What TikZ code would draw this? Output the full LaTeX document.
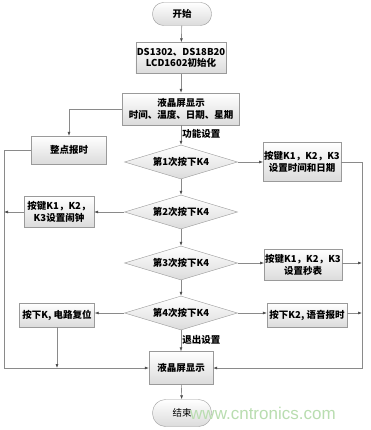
\documentclass[tikz,border=0pt]{standalone}
\usepackage{fontspec}
\setmainfont{Noto Sans CJK SC}
\newfontfamily\wmfont{Liberation Sans}
\usetikzlibrary{shapes.geometric,arrows.meta}
\definecolor{linec}{HTML}{8A8A8A}
\definecolor{boxline}{HTML}{9A9A9A}
\definecolor{wm}{HTML}{B9DDB0}
\begin{document}
\begin{tikzpicture}[x=1pt,y=-1pt,
  txt/.style={font=\bfseries\fontsize{9.5}{11.5}\selectfont},
  box/.style={draw=boxline,top color=white,bottom color=black!14,txt,align=center,inner sep=1pt},
  term/.style={box,rounded corners=11pt},
  dia/.style={diamond,aspect=3.3,draw=boxline,top color=white,bottom color=black!14,txt,inner sep=0pt,minimum width=113pt,minimum height=34pt},
  conn/.style={draw=linec,line width=0.6pt},
  arr/.style={conn,-{Latex[length=4pt,width=3pt,color=black!70]}},
  lbl/.style={txt,anchor=west,inner sep=1pt}]
\useasboundingbox (0,0) rectangle (370,430);
\fill[white] (0,0) rectangle (370,430);
\node[term,minimum width=59pt,minimum height=23pt] (start) at (182,14) {开始};
\node[box,minimum width=82pt,minimum height=31pt] (init) at (181,58) {DS1302、DS18B20\\LCD1602初始化};
\node[box,minimum width=117pt,minimum height=32pt] (lcd) at (181,109) {液晶屏显示\\时间、温度、日期、星期};
\node[box,minimum width=75pt,minimum height=28pt] (zd) at (69,150) {整点报时};
\node[dia] (d1) at (181,162) {第1次按下K4};
\node[box,minimum width=76pt,minimum height=39pt] (r1) at (302,162) {按键K1，K2，K3\\设置时间和日期};
\node[dia] (d2) at (181,212) {第2次按下K4};
\node[box,minimum width=70pt,minimum height=31pt] (l2) at (59,212) {按键K1，K2，\\K3设置闹钟};
\node[dia] (d3) at (181,263) {第3次按下K4};
\node[box,minimum width=76pt,minimum height=31pt] (r3) at (303,265) {按键K1，K2，K3\\设置秒表};
\node[dia] (d4) at (181,313) {第4次按下K4};
\node[box,minimum width=75pt,minimum height=24pt] (l4) at (57,315) {按下K, 电路复位};
\node[box,minimum width=80pt,minimum height=24pt] (r4) at (307,315) {按下K2, 语音报时};
\node[box,minimum width=64pt,minimum height=33pt] (lcd2) at (181,368) {液晶屏显示};
\node[term,font=\fontsize{9.5}{11.5}\selectfont,minimum width=59pt,minimum height=27pt,rounded corners=13pt] (end) at (182,413) {结束};
\coordinate (LT) at (4,150);
\coordinate (LB) at (4,368);
\coordinate (RT) at (362,162);
\coordinate (RB) at (362,368);
% main flow
\draw[arr] (start) -- (init);
\draw[arr] (init) -- (lcd);
\draw[arr] (lcd) -- node[lbl,pos=0.45,anchor=west] {功能设置} (d1);
\draw[arr] (d1) -- (d2);
\draw[arr] (d2) -- (d3);
\draw[arr] (d3) -- (d4);
\draw[arr] (d4) -- node[lbl,pos=0.45,anchor=west] {退出设置} (lcd2);
\draw[arr] (lcd2) -- (end);
% left branch
\draw[arr] (lcd.west) -| (zd.north);
\draw[arr] (zd.west) -- (LT) -- (LB) -- (lcd2.west);
\draw[arr] (d2.west) -- (l2.east);
\draw[arr] (l2.west) -- (l2.west -| LT);
\draw[arr] (d4.west) -- (l4.east |- d4.west);
\draw[arr] (l4.south) -- (l4.south |- LB);
% right branch
\draw[arr] (d1.east) -- (r1.west);
\draw[arr] (r1.east) -- (RT) -- (RB) -- (lcd2.east);
\draw[arr] (d3.east) -- (r3.west |- d3.east);
\draw[arr] (r3.east |- d3.east) -- (RT |- d3.east);
\draw[arr] (d4.east) -- (r4.west |- d4.east);
\draw[arr] (r4.east |- d4.east) -- (RT |- d4.east);
\node[font=\wmfont\fontsize{17}{17}\selectfont,text=wm,anchor=west,inner sep=0pt] (wmk) at (190,413) {www.cntronics.com};
\end{tikzpicture}
\end{document}
